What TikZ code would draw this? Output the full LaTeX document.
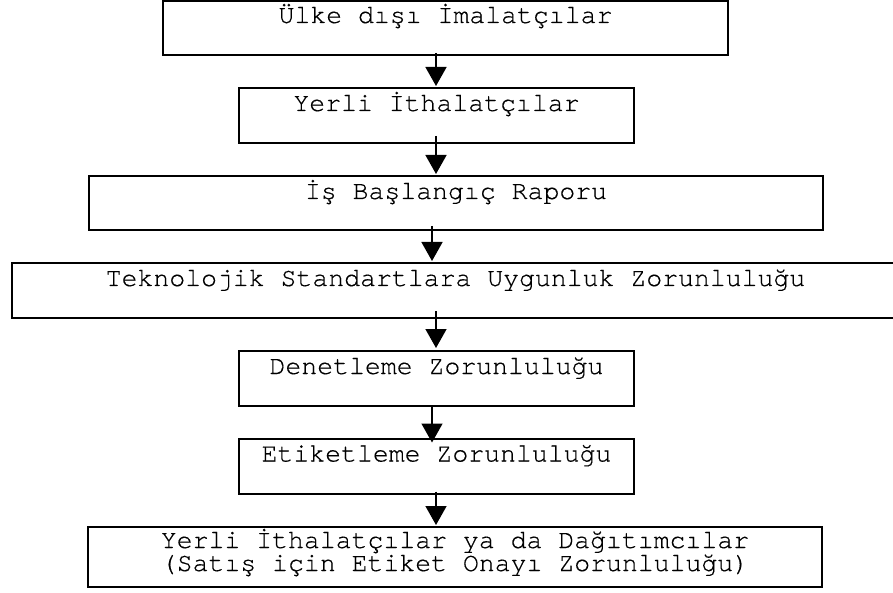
\documentclass[tikz,border=0pt]{standalone}
\usepackage{fontspec}
\setmainfont{texgyrecursor-regular.otf}[BoldFont=texgyrecursor-regular.otf, BoldFeatures={FakeBold=0.4}]
\usetikzlibrary{arrows.meta,calc}
\begin{document}
\begin{tikzpicture}[x=1pt,y=-1pt,
  box/.style={draw=black, line width=2pt, inner sep=0pt},
  lbl/.style={anchor=base, inner sep=0pt, font=\fontsize{26.5}{32}\selectfont\bfseries},
  arr/.style={line width=1.5pt, -{Triangle[length=19pt,width=21pt]}}]
\useasboundingbox (0,0) rectangle (893,593);
% boxes
\node[box, minimum width=565pt, minimum height=54pt] (b1) at (445.5,28) {};
\node[box, minimum width=395pt, minimum height=55pt] (b2) at (436.5,115.5) {};
\node[box, minimum width=734pt, minimum height=54pt] (b3) at (456,203) {};
\node[box, minimum width=893pt, minimum height=55pt] (b4) at (458.5,290.5) {};
\node[box, minimum width=395pt, minimum height=55pt] (b5) at (436.5,378.5) {};
\node[box, minimum width=395pt, minimum height=55pt] (b6) at (436.5,466) {};
\node[box, minimum width=734pt, minimum height=60pt] (b7) at (455,557) {};
% labels
\node[lbl] (t1) at ($(b1.north)+(0,23)$) {Ülke dışı İmalatçılar};
\node[lbl] (t2) at ($(b2.north)+(0,24)$) {Yerli İthalatçılar};
\node[lbl] (t3) at ($(b3.north)+(0,24)$) {İş Başlangıç Raporu};
\node[lbl] (t4) at ($(b4.north)+(-3,24)$) {Teknolojik Standartlara Uygunluk Zorunluluğu};
\node[lbl] (t5) at ($(b5.north)+(0,24)$) {Denetleme Zorunluluğu};
\node[lbl] (t6) at ($(b6.north)+(0,24)$) {Etiketleme Zorunluluğu};
\node[lbl] (t7a) at ($(b7.north)+(0,22)$) {Yerli İthalatçılar ya da Dağıtımcılar};
\node[lbl] (t7b) at ($(b7.north)+(0,45)$) {(Satış için Etiket Onayı Zorunluluğu)};
% arrows
\draw[arr] ($(b1.south)+(-9.5,-3)$) -- ($(b2.north)+(-0.5,-1)$);
\draw[arr] ($(b2.south)+(-0.5,-8)$) -- ($(b3.north)+(-20,-1)$);
\draw[arr] ($(b3.south)+(-24,-5)$) -- ($(b4.north)+(-26.5,-1)$);
\draw[arr] ($(b4.south)+(-22.5,-8)$) -- ($(b5.north)+(-0.5,-2)$);
\draw[arr] ($(b5.south)+(-4.5,0)$) -- ($(b6.north)+(-4.5,5)$);
\draw[arr] ($(b6.south)+(-0.5,-3)$) -- ($(b7.north)+(-19,-1)$);
\end{tikzpicture}
\end{document}
